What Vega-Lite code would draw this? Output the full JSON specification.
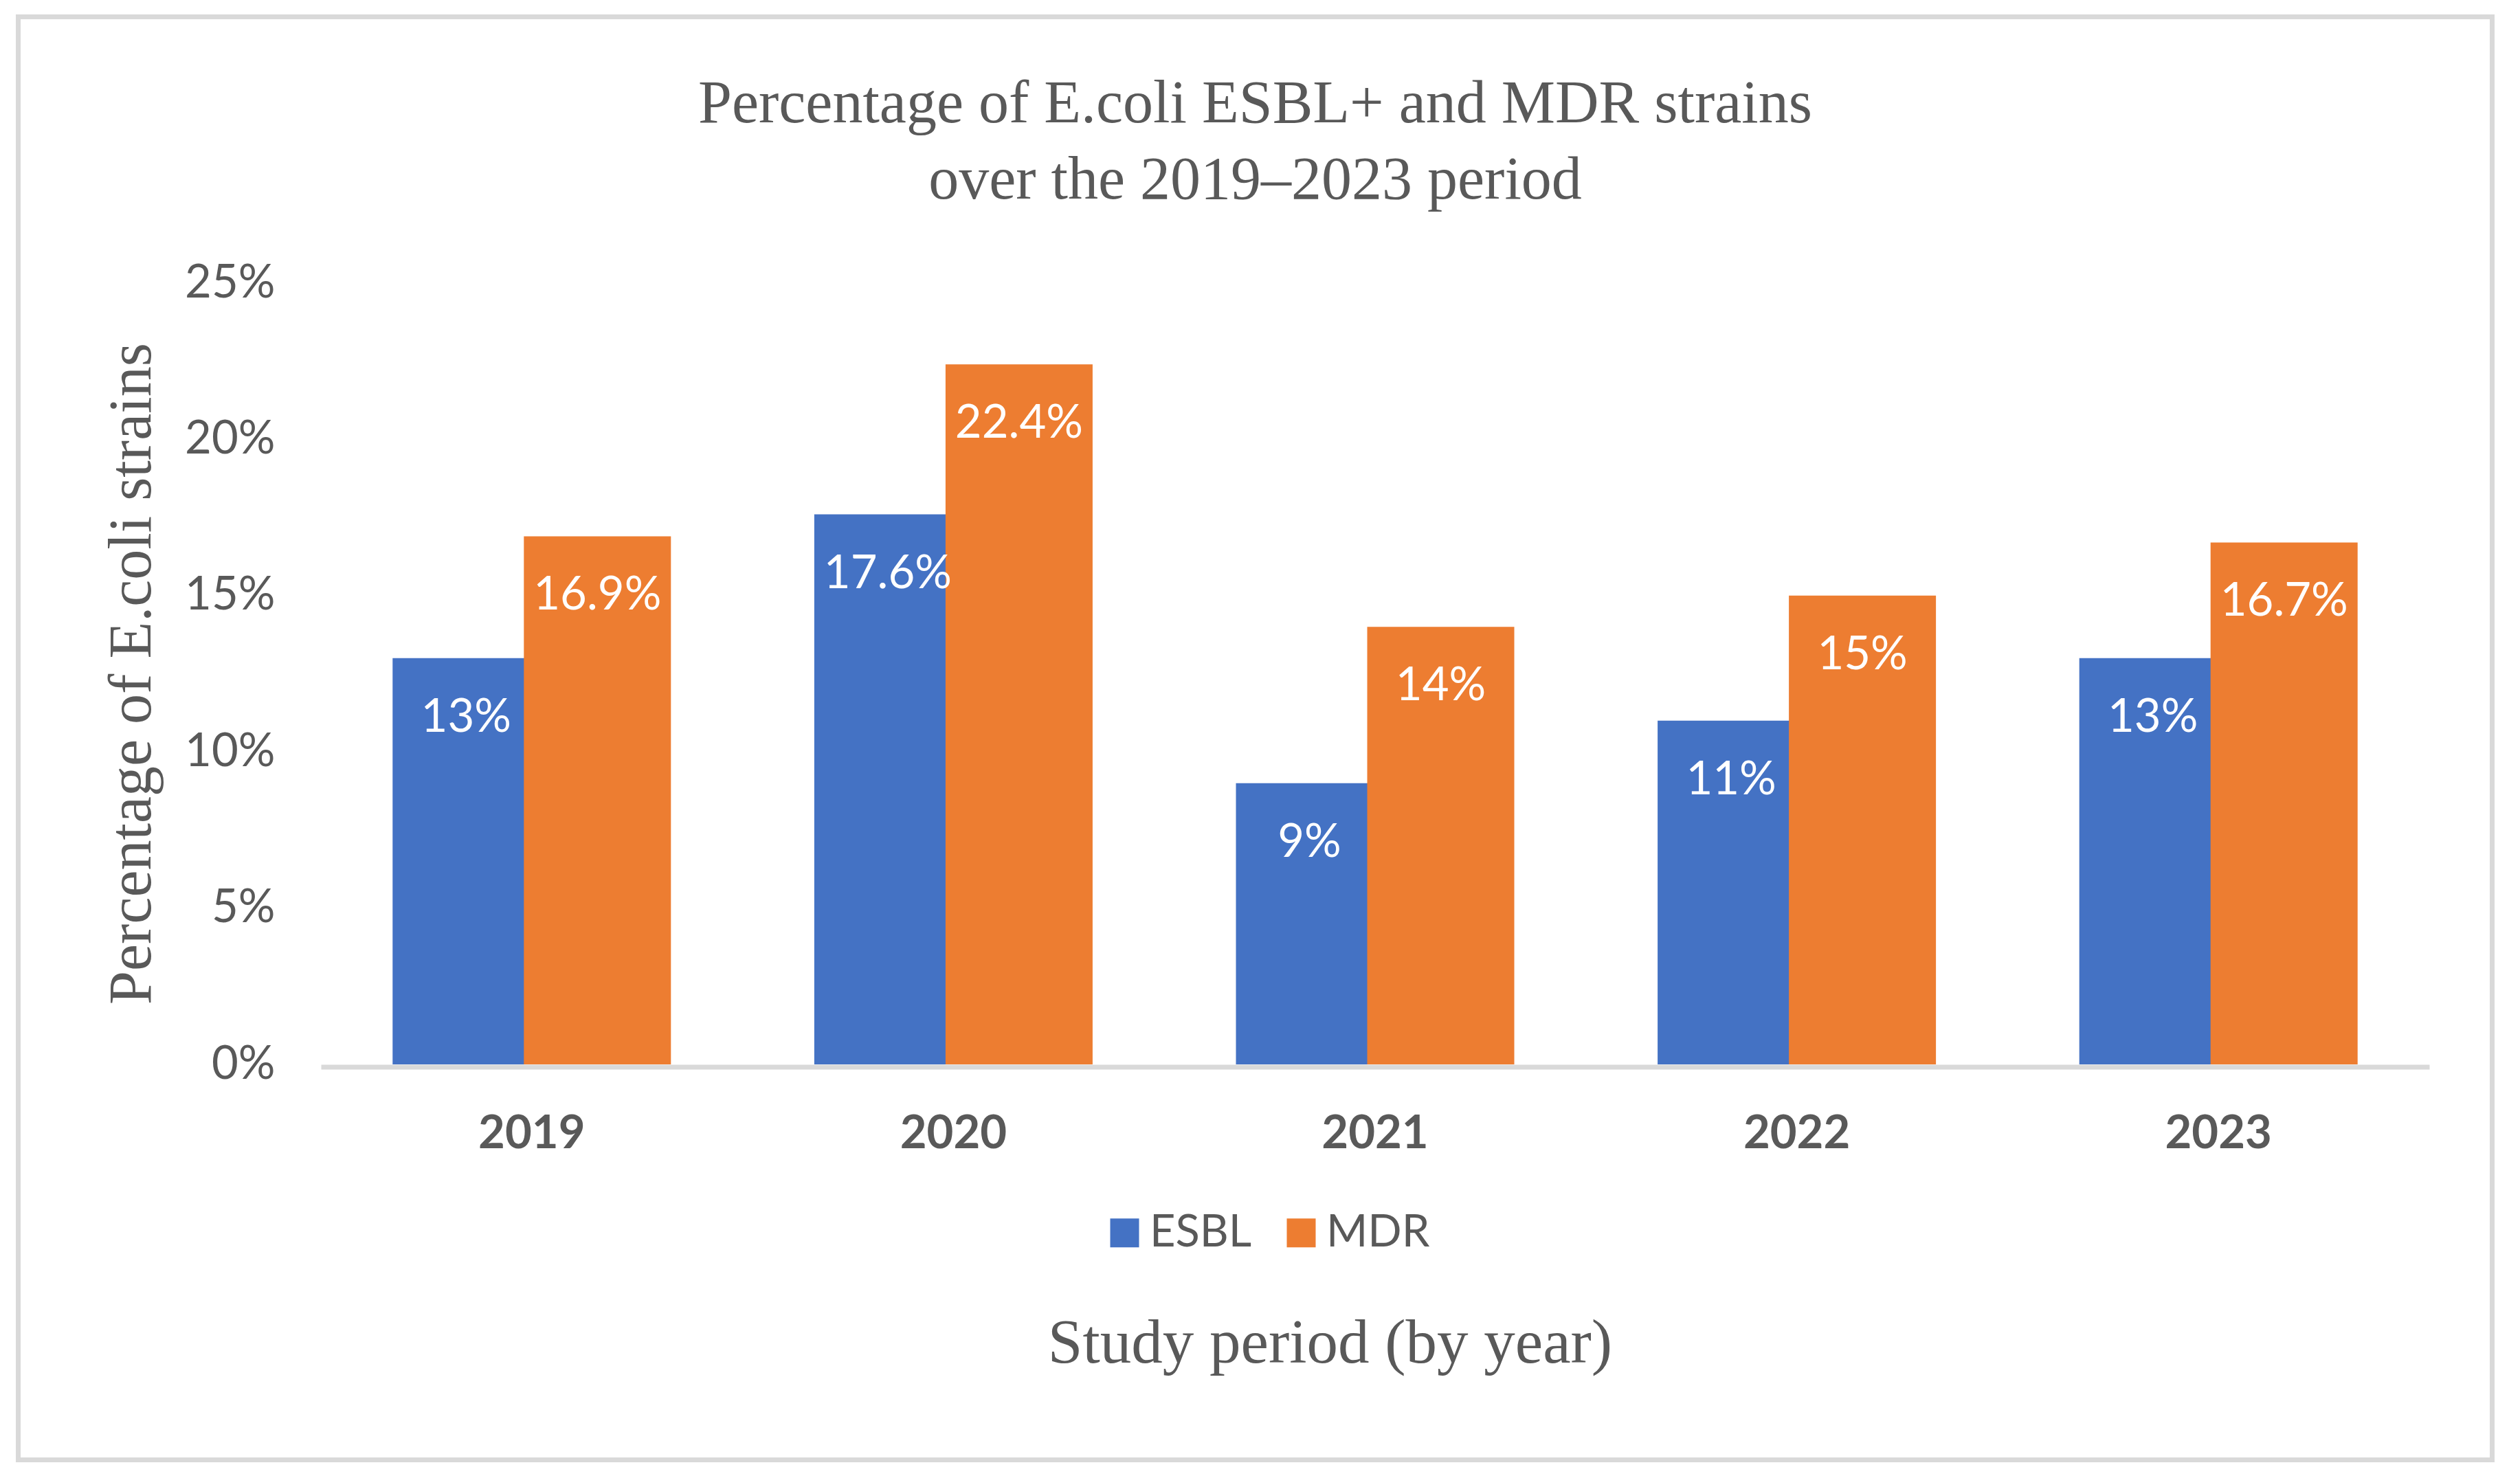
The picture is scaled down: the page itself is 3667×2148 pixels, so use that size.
{
  "$schema": "https://vega.github.io/schema/vega-lite/v6.json",
  "autosize": {"type": "none"},
  "padding": {"left": 26.5, "top": 24.5, "right": 40.5, "bottom": 23.5},
  "width": 3600,
  "height": 2100,
  "background": "white",
  "title": {
    "text": ["Percentage of E.coli ESBL+ and MDR strains", "over the 2019\u20132023 period"],
    "font": "Liberation Serif",
    "fontSize": 88,
    "fontWeight": "normal",
    "color": "#595959",
    "lineHeight": 111,
    "anchor": "middle",
    "frame": "group",
    "offset": -282
  },
  "data": {
    "values": [
      {"year": "2019", "series": "ESBL", "value": 0.13},
      {"year": "2019", "series": "MDR", "value": 0.169},
      {"year": "2020", "series": "ESBL", "value": 0.176},
      {"year": "2020", "series": "MDR", "value": 0.224},
      {"year": "2021", "series": "ESBL", "value": 0.09},
      {"year": "2021", "series": "MDR", "value": 0.14},
      {"year": "2022", "series": "ESBL", "value": 0.11},
      {"year": "2022", "series": "MDR", "value": 0.15},
      {"year": "2023", "series": "ESBL", "value": 0.13},
      {"year": "2023", "series": "MDR", "value": 0.167}
    ]
  },
  "encoding": {
    "x": {
      "field": "year",
      "type": "nominal",
      "scale": {"range": [440.5, 3508.5], "paddingInner": 0.3774, "paddingOuter": 0.1887},
      "axis": {
        "title": "Study period (by year)",
        "offset": -572,
        "labelAngle": 0,
        "labelFontWeight": "bold",
        "labelPadding": 64.5,
        "ticks": false,
        "tickSize": 0,
        "domainColor": "#D9D9D9",
        "domainWidth": 7,
        "titleX": 1908.5,
        "titleY": 429.5,
        "titleAlign": "center",
        "titleBaseline": "alphabetic",
        "titleFontSize": 91
      }
    },
    "xOffset": {"field": "series", "type": "nominal", "sort": ["ESBL", "MDR"]},
    "y": {
      "field": "value",
      "type": "quantitative",
      "scale": {"domain": [0, 0.25], "range": [1524.5, 387.5], "nice": false, "zero": true},
      "axis": {
        "title": "Percentage of E.coli strains",
        "values": [0, 0.05, 0.1, 0.15, 0.2, 0.25],
        "format": ".0%",
        "offset": -373.5,
        "grid": false,
        "domain": false,
        "ticks": false,
        "tickSize": 0,
        "labelPadding": 0,
        "titleX": -182,
        "titleY": 955.5,
        "titleAngle": -90,
        "titleAlign": "center",
        "titleBaseline": "alphabetic",
        "titleFontSize": 88
      }
    }
  },
  "layer": [
    {
      "mark": {"type": "bar", "width": 214},
      "encoding": {
        "color": {
          "field": "series",
          "type": "nominal",
          "scale": {"domain": ["ESBL", "MDR"], "range": ["#4472C4", "#ED7D31"]},
          "legend": {
            "title": null,
            "orient": "none",
            "direction": "horizontal",
            "legendX": 1577.5,
            "legendY": 1737,
            "padding": 0,
            "symbolType": "square",
            "symbolSize": 1764,
            "symbolStrokeWidth": 0,
            "labelOffset": 4,
            "columnPadding": 39,
            "labelFont": "Lato",
            "labelFontSize": 65,
            "labelColor": "#595959"
          }
        }
      }
    },
    {
      "mark": {"type": "text", "baseline": "alphabetic", "dy": 107, "font": "Lato", "fontSize": 67, "color": "white"},
      "encoding": {
        "text": {"field": "value", "type": "quantitative", "format": ".1~%"}
      }
    }
  ],
  "config": {
    "view": {"stroke": "#D9D9D9", "strokeWidth": 7, "fill": "white"},
    "axis": {
      "labelFont": "Lato",
      "labelFontSize": 67,
      "labelColor": "#595959",
      "titleFont": "Liberation Serif",
      "titleFontWeight": "normal",
      "titleColor": "#595959"
    }
  }
}
